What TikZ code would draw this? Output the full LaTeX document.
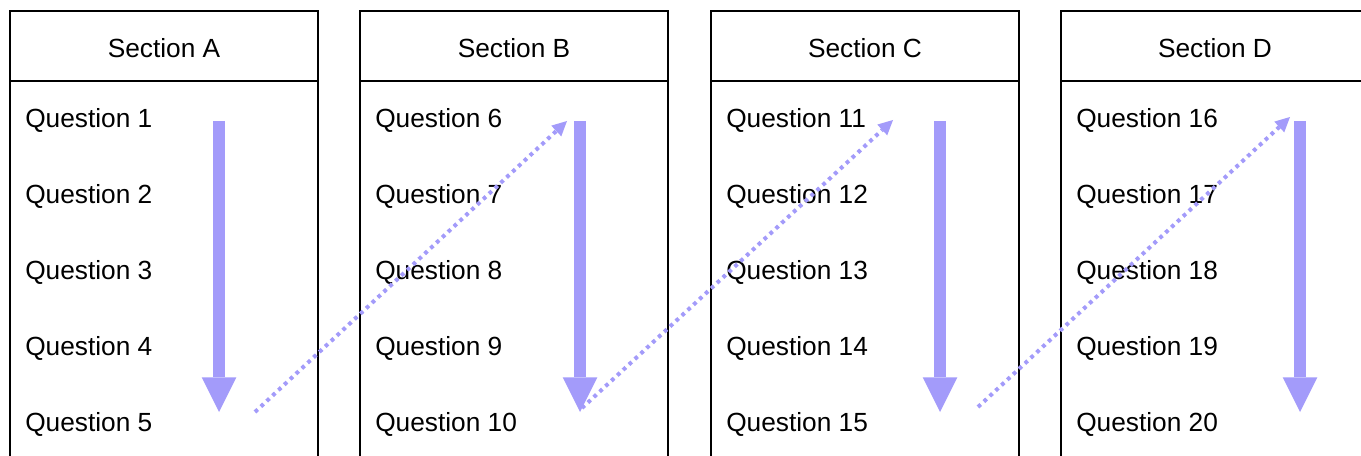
\documentclass[tikz,border=0pt]{standalone}
\usepackage{fontspec}
\setmainfont{Liberation Sans}
\usepackage{xcolor}
\usepackage{tikz}
\usetikzlibrary{arrows.meta}
\definecolor{flow}{RGB}{163,155,250}
\tikzset{
  secbox/.style={draw, line width=1.5pt},
  sectitle/.style={anchor=base, inner sep=0pt, font=\fontsize{19.7}{24}\selectfont},
  question/.style={anchor=base west, inner sep=0pt, font=\fontsize{19.7}{24}\selectfont},
  downarrow/.style={draw=flow, line width=9pt, -{Triangle[width=26pt, length=26pt, line width=0pt]}},
  jumparrow/.style={draw=flow, line width=3pt, dash pattern=on 2.8pt off 3.2pt, -{Triangle[width=11pt, length=11pt, line width=0pt]}}
}

\begin{document}
\begin{tikzpicture}[x=0.75pt, y=-0.75pt]
\useasboundingbox (0,0) rectangle (1361,456);
\clip (0,0) rectangle (1361,456);

\draw[secbox] (10,11) rectangle (318,480);
\draw[secbox] (10,81)--(318,81);
\draw[secbox] (360,11) rectangle (668,480);
\draw[secbox] (360,81)--(668,81);
\draw[secbox] (711,11) rectangle (1019,480);
\draw[secbox] (711,81)--(1019,81);
\draw[secbox] (1061,11) rectangle (1369,480);
\draw[secbox] (1061,81)--(1369,81);

\node[sectitle] (secA) at (164,58) {Section A};
\node[sectitle] (secB) at (514,58) {Section B};
\node[sectitle] (secC) at (865,58) {Section C};
\node[sectitle] (secD) at (1215,58) {Section D};

\node[question] (q1) at (25,128) {Question 1};
\node[question] (q2) at (25,204) {Question 2};
\node[question] (q3) at (25,279) {Question 3};
\node[question] (q4) at (25,355) {Question 4};
\node[question] (q5) at (25,431) {Question 5};
\node[question] (q6) at (375,128) {Question 6};
\node[question] (q7) at (375,204) {Question 7};
\node[question] (q8) at (375,279) {Question 8};
\node[question] (q9) at (375,355) {Question 9};
\node[question] (q10) at (375,431) {Question 10};
\node[question] (q11) at (726,128) {Question 11};
\node[question] (q12) at (726,204) {Question 12};
\node[question] (q13) at (726,279) {Question 13};
\node[question] (q14) at (726,355) {Question 14};
\node[question] (q15) at (726,431) {Question 15};
\node[question] (q16) at (1076,128) {Question 16};
\node[question] (q17) at (1076,204) {Question 17};
\node[question] (q18) at (1076,279) {Question 18};
\node[question] (q19) at (1076,355) {Question 19};
\node[question] (q20) at (1076,431) {Question 20};

\coordinate (topA) at (219,121);
\coordinate (botA) at (219,412);
\coordinate (topB) at (580,121);
\coordinate (botB) at (580,412);
\coordinate (topC) at (940,121);
\coordinate (botC) at (940,412);
\coordinate (topD) at (1300,121);
\coordinate (botD) at (1300,412);

\draw[downarrow] (topA)--(botA);
\draw[downarrow] (topB)--(botB);
\draw[downarrow] (topC)--(botC);
\draw[downarrow] (topD)--(botD);

\coordinate (leaveA) at (255,412);
\coordinate (enterB) at (567,121);
\coordinate (leaveB) at (582,408);
\coordinate (enterC) at (893,120);
\coordinate (leaveC) at (978,407);
\coordinate (enterD) at (1290,117);

\draw[jumparrow] (leaveA)--(enterB);
\draw[jumparrow] (leaveB)--(enterC);
\draw[jumparrow] (leaveC)--(enterD);
\end{tikzpicture}
\end{document}
